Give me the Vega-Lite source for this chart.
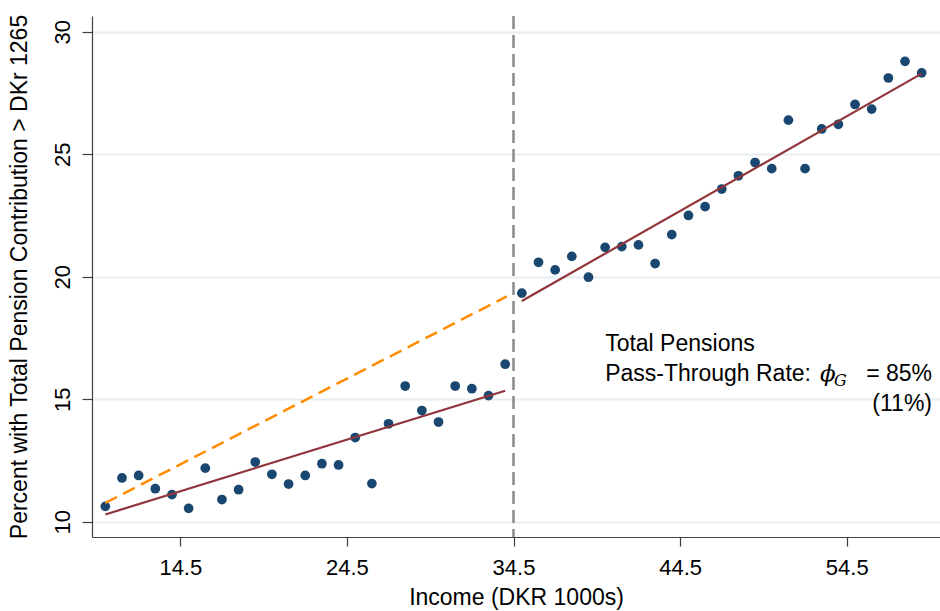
{
  "$schema": "https://vega.github.io/schema/vega-lite/v6.json",
  "width": 848,
  "height": 521,
  "autosize": "none",
  "padding": {"left": 92, "top": 16, "right": 0, "bottom": 74},
  "background": "white",
  "config": {
    "view": {"stroke": null},
    "font": "Liberation Sans",
    "axis": {
      "labelFont": "Liberation Sans",
      "titleFont": "Liberation Sans",
      "labelColor": "#000000",
      "titleColor": "#000000",
      "titleFontWeight": "normal",
      "domainColor": "#404040",
      "tickColor": "#404040",
      "domainWidth": 1.2,
      "tickWidth": 1.2
    }
  },
  "datasets": {
    "bins": [
      {"income": 10, "pct": 10.63}, {"income": 11, "pct": 11.79}, {"income": 12, "pct": 11.89},
      {"income": 13, "pct": 11.35}, {"income": 14, "pct": 11.11}, {"income": 15, "pct": 10.55},
      {"income": 16, "pct": 12.19}, {"income": 17, "pct": 10.91}, {"income": 18, "pct": 11.31},
      {"income": 19, "pct": 12.44}, {"income": 20, "pct": 11.94}, {"income": 21, "pct": 11.54},
      {"income": 22, "pct": 11.89}, {"income": 23, "pct": 12.37}, {"income": 24, "pct": 12.32},
      {"income": 25, "pct": 13.44}, {"income": 26, "pct": 11.56}, {"income": 27, "pct": 14.0},
      {"income": 28, "pct": 15.54}, {"income": 29, "pct": 14.54}, {"income": 30, "pct": 14.07},
      {"income": 31, "pct": 15.54}, {"income": 32, "pct": 15.43}, {"income": 33, "pct": 15.15},
      {"income": 34, "pct": 16.43},
      {"income": 35, "pct": 19.33}, {"income": 36, "pct": 20.59}, {"income": 37, "pct": 20.28},
      {"income": 38, "pct": 20.83}, {"income": 39, "pct": 19.98}, {"income": 40, "pct": 21.2},
      {"income": 41, "pct": 21.23}, {"income": 42, "pct": 21.3}, {"income": 43, "pct": 20.54},
      {"income": 44, "pct": 21.72}, {"income": 45, "pct": 22.5}, {"income": 46, "pct": 22.86},
      {"income": 47, "pct": 23.58}, {"income": 48, "pct": 24.12}, {"income": 49, "pct": 24.66},
      {"income": 50, "pct": 24.41}, {"income": 51, "pct": 26.39}, {"income": 52, "pct": 24.41},
      {"income": 53, "pct": 26.03}, {"income": 54, "pct": 26.22}, {"income": 55, "pct": 27.03},
      {"income": 56, "pct": 26.84}, {"income": 57, "pct": 28.11}, {"income": 58, "pct": 28.79},
      {"income": 59, "pct": 28.32}
    ],
    "fits": [
      {"segment": "below", "income": 10, "pct": 10.3},
      {"segment": "below", "income": 34, "pct": 15.35},
      {"segment": "above", "income": 35, "pct": 19.01},
      {"segment": "above", "income": 59, "pct": 28.29}
    ],
    "counterfactual": [
      {"income": 10, "pct": 10.77},
      {"income": 34.1, "pct": 19.2}
    ],
    "notes": [
      {"part": "l1", "income": 40.0, "pct": 16.98, "label": "Total Pensions"},
      {"part": "l2", "income": 40.0, "pct": 15.74, "label": "Pass-Through Rate:"},
      {"part": "phi", "income": 52.9, "pct": 15.74, "label": "ϕ"},
      {"part": "sub", "income": 53.74, "pct": 15.74, "label": "G"},
      {"part": "val", "income": 59.62, "pct": 15.74, "label": "= 85%"},
      {"part": "se", "income": 59.62, "pct": 14.52, "label": "(11%)"}
    ],
    "cutoff": [{"income": 34.5}]
  },
  "layer": [
    {
      "data": {"name": "bins"},
      "mark": {"type": "point", "filled": true, "shape": "circle", "size": 95, "opacity": 1, "color": "#1a476f"},
      "encoding": {
        "x": {
          "field": "income", "type": "quantitative",
          "scale": {"domain": [9.2, 60.1], "nice": false, "zero": false},
          "axis": {
            "values": [14.5, 24.5, 34.5, 44.5, 54.5],
            "format": ".1f",
            "grid": false,
            "title": "Income (DKR 1000s)",
            "titleFontSize": 23,
            "titlePadding": 8,
            "labelFontSize": 22,
            "labelPadding": 11,
            "tickSize": 9
          }
        },
        "y": {
          "field": "pct", "type": "quantitative",
          "scale": {"domain": [9.38, 30.64], "nice": false, "zero": false},
          "axis": {
            "values": [10, 15, 20, 25, 30],
            "grid": true,
            "gridColor": "#e6eef1",
            "gridWidth": 2,
            "title": "Percent with Total Pension Contribution > DKr 1265",
            "titleFontSize": 23,
            "titlePadding": 20,
            "labelFontSize": 22,
            "labelAngle": -90,
            "labelAlign": "center",
            "labelBaseline": "bottom",
            "labelPadding": 8,
            "tickSize": 10
          }
        }
      }
    },
    {
      "data": {"name": "counterfactual"},
      "mark": {"type": "line", "color": "#ff8c00", "strokeWidth": 2.5, "strokeDash": [13, 7]},
      "encoding": {
        "x": {"field": "income", "type": "quantitative"},
        "y": {"field": "pct", "type": "quantitative"}
      }
    },
    {
      "data": {"name": "fits"},
      "mark": {"type": "line", "color": "#90353b", "strokeWidth": 2.2},
      "encoding": {
        "x": {"field": "income", "type": "quantitative"},
        "y": {"field": "pct", "type": "quantitative"},
        "detail": {"field": "segment"}
      }
    },
    {
      "data": {"name": "cutoff"},
      "mark": {"type": "rule", "color": "#8a8a8a", "strokeWidth": 2.5, "strokeDash": [13, 6]},
      "encoding": {
        "x": {"field": "income", "type": "quantitative"}
      }
    },
    {
      "data": {"name": "notes"},
      "transform": [{"filter": "datum.part === 'l1' || datum.part === 'l2'"}],
      "mark": {"type": "text", "align": "left", "baseline": "alphabetic", "fontSize": 23, "font": "Liberation Sans", "color": "#000000"},
      "encoding": {
        "x": {"field": "income", "type": "quantitative"},
        "y": {"field": "pct", "type": "quantitative"},
        "text": {"field": "label"}
      }
    },
    {
      "data": {"name": "notes"},
      "transform": [{"filter": "datum.part === 'phi'"}],
      "mark": {"type": "text", "align": "left", "baseline": "alphabetic", "fontSize": 23, "font": "DejaVu Serif", "fontStyle": "italic", "color": "#000000"},
      "encoding": {
        "x": {"field": "income", "type": "quantitative"},
        "y": {"field": "pct", "type": "quantitative"},
        "text": {"field": "label"}
      }
    },
    {
      "data": {"name": "notes"},
      "transform": [{"filter": "datum.part === 'sub'"}],
      "mark": {"type": "text", "align": "left", "baseline": "alphabetic", "dy": 5, "fontSize": 16, "font": "DejaVu Serif", "fontStyle": "italic", "color": "#000000"},
      "encoding": {
        "x": {"field": "income", "type": "quantitative"},
        "y": {"field": "pct", "type": "quantitative"},
        "text": {"field": "label"}
      }
    },
    {
      "data": {"name": "notes"},
      "transform": [{"filter": "datum.part === 'val' || datum.part === 'se'"}],
      "mark": {"type": "text", "align": "right", "baseline": "alphabetic", "fontSize": 23, "font": "Liberation Sans", "color": "#000000"},
      "encoding": {
        "x": {"field": "income", "type": "quantitative"},
        "y": {"field": "pct", "type": "quantitative"},
        "text": {"field": "label"}
      }
    }
  ]
}
